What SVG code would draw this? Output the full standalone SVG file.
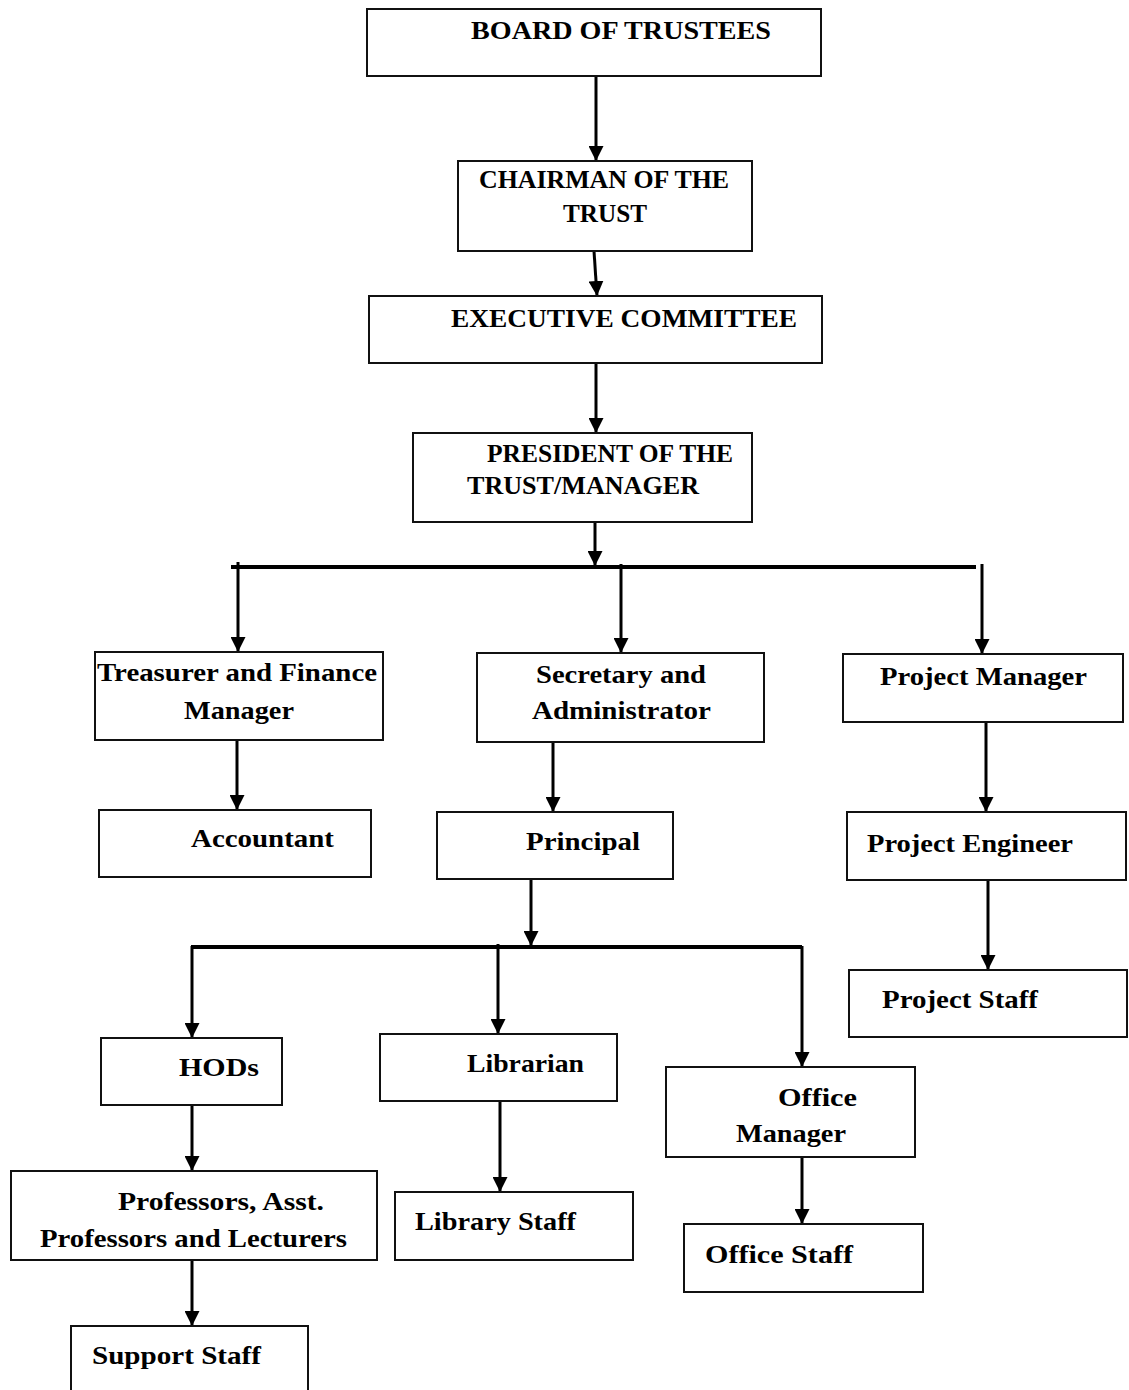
<svg xmlns="http://www.w3.org/2000/svg" width="1129" height="1390" viewBox="0 0 1129 1390">
<style>
.box{fill:#fff;stroke:#111;stroke-width:2}
.t{font-family:"Liberation Serif","Times New Roman",serif;font-weight:bold;font-size:26px;fill:#000}
.c{stroke:#000;stroke-width:3;fill:none}
.bus{stroke:#000;stroke-width:4;fill:none}
</style>
<defs>
<marker id="ah" markerUnits="userSpaceOnUse" markerWidth="15" markerHeight="15" refX="15" refY="7.5" orient="auto" viewBox="0 0 15 15">
<path d="M0,0 L15,7.5 L0,15 z" fill="#000"/>
</marker>
</defs>
<rect width="1129" height="1390" fill="#fff"/>
<g id="connectors">
<line class="c" x1="596" y1="76" x2="596" y2="161" marker-end="url(#ah)"/>
<line class="c" x1="594" y1="251" x2="597" y2="296" marker-end="url(#ah)"/>
<line class="c" x1="596" y1="363" x2="596" y2="433" marker-end="url(#ah)"/>
<line class="c" x1="595" y1="522" x2="595" y2="566" marker-end="url(#ah)"/>
<line class="bus" x1="231" y1="567" x2="976" y2="567"/>
<line class="c" x1="238" y1="562" x2="238" y2="652" marker-end="url(#ah)"/>
<line class="c" x1="621" y1="564" x2="621" y2="653" marker-end="url(#ah)"/>
<line class="c" x1="982" y1="564" x2="982" y2="654" marker-end="url(#ah)"/>
<line class="c" x1="237" y1="740" x2="237" y2="810" marker-end="url(#ah)"/>
<line class="c" x1="553" y1="742" x2="553" y2="812" marker-end="url(#ah)"/>
<line class="c" x1="986" y1="722" x2="986" y2="812" marker-end="url(#ah)"/>
<line class="c" x1="988" y1="880" x2="988" y2="970" marker-end="url(#ah)"/>
<line class="c" x1="531" y1="879" x2="531" y2="946" marker-end="url(#ah)"/>
<line class="bus" x1="191" y1="947" x2="802" y2="947"/>
<line class="c" x1="192" y1="946" x2="192" y2="1038" marker-end="url(#ah)"/>
<line class="c" x1="498" y1="944" x2="498" y2="1034" marker-end="url(#ah)"/>
<line class="c" x1="802" y1="946" x2="802" y2="1067" marker-end="url(#ah)"/>
<line class="c" x1="192" y1="1105" x2="192" y2="1171" marker-end="url(#ah)"/>
<line class="c" x1="500" y1="1101" x2="500" y2="1192" marker-end="url(#ah)"/>
<line class="c" x1="802" y1="1157" x2="802" y2="1224" marker-end="url(#ah)"/>
<line class="c" x1="192" y1="1260" x2="192" y2="1326" marker-end="url(#ah)"/>
</g>
<g id="board"><rect class="box" x="367" y="9" width="454" height="67"/><text class="t" x="471" y="39" textLength="300" lengthAdjust="spacingAndGlyphs">BOARD OF TRUSTEES</text></g>
<g id="chairman"><rect class="box" x="458" y="161" width="294" height="90"/><text class="t" x="479" y="188" textLength="250" lengthAdjust="spacingAndGlyphs">CHAIRMAN OF THE</text><text class="t" x="563" y="222" textLength="84" lengthAdjust="spacingAndGlyphs">TRUST</text></g>
<g id="executive"><rect class="box" x="369" y="296" width="453" height="67"/><text class="t" x="451" y="327" textLength="346" lengthAdjust="spacingAndGlyphs">EXECUTIVE COMMITTEE</text></g>
<g id="president"><rect class="box" x="413" y="433" width="339" height="89"/><text class="t" x="487" y="462" textLength="246" lengthAdjust="spacingAndGlyphs">PRESIDENT OF THE</text><text class="t" x="467" y="494" textLength="232" lengthAdjust="spacingAndGlyphs">TRUST/MANAGER</text></g>
<g id="treasurer"><rect class="box" x="95" y="652" width="288" height="88"/><text class="t" x="97" y="681" textLength="280" lengthAdjust="spacingAndGlyphs">Treasurer and Finance</text><text class="t" x="184" y="719" textLength="110" lengthAdjust="spacingAndGlyphs">Manager</text></g>
<g id="secretary"><rect class="box" x="477" y="653" width="287" height="89"/><text class="t" x="536" y="683" textLength="170" lengthAdjust="spacingAndGlyphs">Secretary and</text><text class="t" x="532" y="719" textLength="179" lengthAdjust="spacingAndGlyphs">Administrator</text></g>
<g id="project-manager"><rect class="box" x="843" y="654" width="280" height="68"/><text class="t" x="880" y="685" textLength="207" lengthAdjust="spacingAndGlyphs">Project Manager</text></g>
<g id="accountant"><rect class="box" x="99" y="810" width="272" height="67"/><text class="t" x="191" y="847" textLength="143" lengthAdjust="spacingAndGlyphs">Accountant</text></g>
<g id="principal"><rect class="box" x="437" y="812" width="236" height="67"/><text class="t" x="526" y="850" textLength="114" lengthAdjust="spacingAndGlyphs">Principal</text></g>
<g id="project-engineer"><rect class="box" x="847" y="812" width="279" height="68"/><text class="t" x="867" y="852" textLength="206" lengthAdjust="spacingAndGlyphs">Project Engineer</text></g>
<g id="project-staff"><rect class="box" x="849" y="970" width="278" height="67"/><text class="t" x="882" y="1008" textLength="156" lengthAdjust="spacingAndGlyphs">Project Staff</text></g>
<g id="hods"><rect class="box" x="101" y="1038" width="181" height="67"/><text class="t" x="179" y="1076" textLength="80" lengthAdjust="spacingAndGlyphs">HODs</text></g>
<g id="librarian"><rect class="box" x="380" y="1034" width="237" height="67"/><text class="t" x="467" y="1072" textLength="117" lengthAdjust="spacingAndGlyphs">Librarian</text></g>
<g id="office-manager"><rect class="box" x="666" y="1067" width="249" height="90"/><text class="t" x="778" y="1106" textLength="79" lengthAdjust="spacingAndGlyphs">Office</text><text class="t" x="736" y="1142" textLength="110" lengthAdjust="spacingAndGlyphs">Manager</text></g>
<g id="professors"><rect class="box" x="11" y="1171" width="366" height="89"/><text class="t" x="118" y="1210" textLength="206" lengthAdjust="spacingAndGlyphs">Professors, Asst.</text><text class="t" x="40" y="1247" textLength="307" lengthAdjust="spacingAndGlyphs">Professors and Lecturers</text></g>
<g id="library-staff"><rect class="box" x="395" y="1192" width="238" height="68"/><text class="t" x="415" y="1230" textLength="161" lengthAdjust="spacingAndGlyphs">Library Staff</text></g>
<g id="office-staff"><rect class="box" x="684" y="1224" width="239" height="68"/><text class="t" x="705" y="1263" textLength="148" lengthAdjust="spacingAndGlyphs">Office Staff</text></g>
<g id="support-staff"><rect class="box" x="71" y="1326" width="237" height="80"/><text class="t" x="92" y="1364" textLength="169" lengthAdjust="spacingAndGlyphs">Support Staff</text></g>
</svg>
